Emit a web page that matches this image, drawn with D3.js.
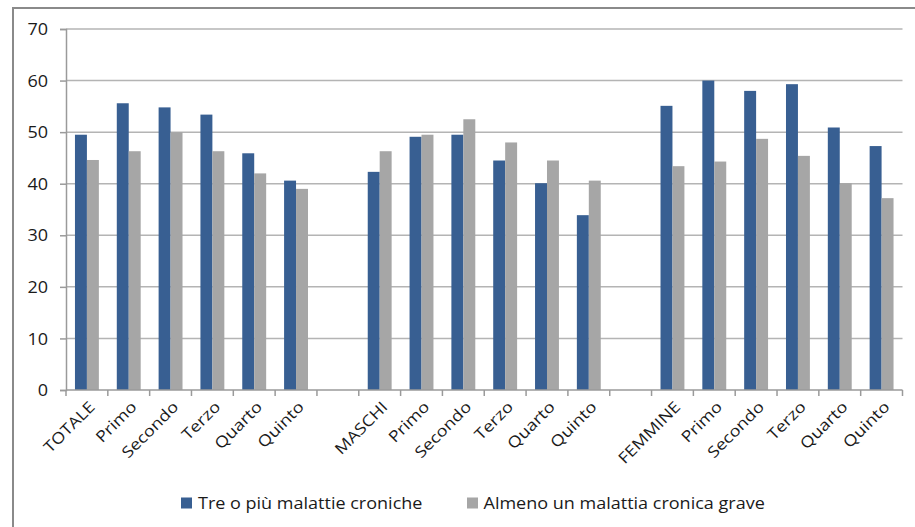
<!DOCTYPE html>
<html>
<head>
<meta charset="utf-8">
<script src="https://cdn.jsdelivr.net/npm/d3@7"></script>
<style>
  html, body { margin: 0; padding: 0; background: #fff; }
  svg { display: block; }
  text { font-family: "Open Sans", "Liberation Sans", sans-serif; fill: #1a1a1a; }
</style>
</head>
<body>
<svg id="chart" width="915" height="527"></svg>
<script>
// ---- data ----
const categories = ["TOTALE","Primo","Secondo","Terzo","Quarto","Quinto","",
                    "MASCHI","Primo","Secondo","Terzo","Quarto","Quinto","",
                    "FEMMINE","Primo","Secondo","Terzo","Quarto","Quinto"];
const treOPiu = [49.5,55.6,54.8,53.4,45.9,40.6,null,
                 42.3,49.1,49.5,44.5,40.1,33.9,null,
                 55.1,60.0,58.0,59.3,50.9,47.3];
const almenoUna = [44.6,46.3,50.0,46.3,42.0,39.0,null,
                   46.3,49.5,52.5,48.0,44.5,40.6,null,
                   43.4,44.3,48.7,45.4,40.1,37.2];
const seriesNames = ["Tre o più malattie croniche","Almeno un malattia cronica grave"];
const yTicks = [0,10,20,30,40,50,60,70];

(function () {
const colors = ["#385f92", "#a6a6a6"];
const svg = d3.select("#chart");
const mLeft = 66, mRight = 902.5, mTop = 29, mBottom = 390;
const FS = 15.5;

// outer frame
svg.append("rect").attr("x", 13).attr("y", 8).attr("width", 915).attr("height", 540)
  .attr("fill", "none").attr("stroke", "#8a8a8a").attr("stroke-width", 2);

const idx = d3.range(categories.length);
const x = d3.scaleBand().domain(idx).range([mLeft, mRight]).paddingInner(0).paddingOuter(0);
const x1 = d3.scaleBand().domain([0,1]).range([0, x.bandwidth()]).paddingInner(0).paddingOuter(0.75);
const y = d3.scaleLinear().domain([0,70]).range([mBottom, mTop]);

// gridlines
svg.append("g").selectAll("line").data(yTicks.filter(d => d > 0)).join("line")
  .attr("x1", mLeft).attr("x2", mRight)
  .attr("y1", d => y(d)).attr("y2", d => y(d))
  .attr("stroke", "#b4b4b4").attr("stroke-width", 1.5);

// bars
const seriesData = [treOPiu, almenoUna];
seriesData.forEach((vals, s) => {
  svg.append("g").selectAll("rect").data(idx.filter(i => vals[i] != null)).join("rect")
    .attr("x", i => x(i) + x1(s))
    .attr("width", x1.bandwidth())
    .attr("y", i => y(vals[i]))
    .attr("height", i => y(0) - y(vals[i]))
    .attr("fill", colors[s]);
});

// y axis
const yAxis = svg.append("g").attr("transform", `translate(${mLeft},0)`)
  .call(d3.axisLeft(y).tickValues(yTicks).tickSize(6).tickPadding(12));
yAxis.select(".domain").attr("stroke", "#9a9a9a").attr("stroke-width", 1.5);
yAxis.selectAll(".tick line").attr("stroke", "#9a9a9a").attr("stroke-width", 1.5);
yAxis.selectAll(".tick text").attr("font-size", FS).attr("font-family", "Open Sans")
  .attr("fill", "#1a1a1a").attr("dy", "0.36em");

// x axis
const xEdge = d3.scaleLinear().domain([0, categories.length]).range([mLeft, mRight]);
const xg = svg.append("g");
xg.append("line").attr("x1", mLeft).attr("x2", mRight).attr("y1", mBottom).attr("y2", mBottom)
  .attr("stroke", "#9a9a9a").attr("stroke-width", 1.5);
xg.selectAll("line.t").data(d3.range(categories.length + 1)).join("line").attr("class","t")
  .attr("x1", d => xEdge(d)).attr("x2", d => xEdge(d))
  .attr("y1", mBottom).attr("y2", mBottom + 6)
  .attr("stroke", "#9a9a9a").attr("stroke-width", 1.5);

const labels = xg.selectAll("text.xl").data(idx.filter(i => categories[i] !== "")).join("text")
  .attr("class", "xl")
  .attr("font-size", FS)
  .attr("text-anchor", "end")
  .text(i => categories[i]);

// legend
const lg = svg.append("g");
const legendX = [181, 467];
const legendTextX = [198, 483.5];
const legendTargets = [224, 282];
const legendTexts = [];
seriesNames.forEach((n, s) => {
  lg.append("rect").attr("x", legendX[s]).attr("y", 497.5).attr("width", 11).attr("height", 11)
    .attr("fill", colors[s]);
  legendTexts.push(lg.append("text").attr("x", legendTextX[s]).attr("y", 503)
    .attr("dy", "0.36em").attr("font-size", FS).text(n));
});

// horizontal stretch factor (reference text looks horizontally widened)
const measured = legendTexts.map(t => t.node().getComputedTextLength());
const k = (legendTargets[0] / measured[0] + legendTargets[1] / measured[1]) / 2;

legendTexts.forEach((t, s) => {
  t.attr("transform", `translate(${legendTextX[s]},0) scale(${k},1) translate(${-legendTextX[s]},0)`);
});
yAxis.selectAll(".tick text").attr("transform", `translate(-18,0) scale(${k},1) translate(18,0)`);
labels.attr("transform", i => `translate(${x(i) + x.bandwidth()/2 + 5},${mBottom + 14}) rotate(-45) scale(${k},1)`)
  .attr("dy", "0.36em");
})();
</script>
</body>
</html>
